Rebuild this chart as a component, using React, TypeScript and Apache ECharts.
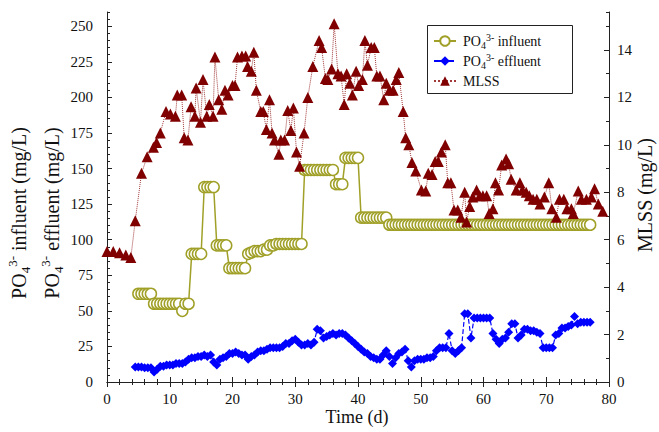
import React, { useEffect, useRef } from 'react';
import * as echarts from 'echarts';

const FONT = 'Liberation Serif';
const AX = '#222';

// PO4 3- influent (mg/L) : [day, value]
const influent: [number, number][] = [
  [5, 62], [5.5, 62], [6, 62], [6.5, 62], [7, 62],
  [7.5, 55], [8, 55], [8.5, 55], [9, 55], [9.5, 55], [10, 55], [10.5, 55], [11, 55], [11.5, 55],
  [12, 50], [12.5, 55], [13, 55],
  [13.5, 90], [14, 90], [14.5, 90], [15, 90],
  [15.5, 137], [16, 137], [16.5, 137], [17, 137],
  [17.5, 96], [18, 96], [18.5, 96], [19, 96],
  [19.5, 80], [20, 80], [20.5, 80], [21, 80], [21.5, 80], [22, 80],
  [22.5, 90], [23, 91], [23.5, 92], [24, 92], [24.5, 92], [25, 93], [25.5, 93],
  [26, 96], [26.5, 96], [27, 97], [27.5, 97], [28, 97], [28.5, 97], [29, 97], [29.5, 97], [30, 97], [30.5, 97], [31, 97],
  [31.5, 149], [32, 149], [32.5, 149], [33, 149], [33.5, 149], [34, 149], [34.5, 149], [35, 149], [35.5, 149], [36, 149],
  [36.5, 139], [37, 139], [37.5, 139],
  [38, 157.5], [38.5, 157.5], [39, 157.5], [39.5, 157.5], [40, 157.5],
  [40.5, 115.5], [41, 115.5], [41.5, 115.5], [42, 115.5], [42.5, 115.5], [43, 115.5], [43.5, 115.5], [44, 115.5], [44.5, 115.5],
  [45, 110.5], [45.5, 110.5], [46, 110.5], [46.5, 110.5], [47, 110.5], [47.5, 110.5], [48, 110.5], [48.5, 110.5], [49, 110.5], [49.5, 110.5],
  [50, 110.5], [50.5, 110.5], [51, 110.5], [51.5, 110.5], [52, 110.5], [52.5, 110.5], [53, 110.5], [53.5, 110.5], [54, 110.5], [54.5, 110.5],
  [55, 110.5], [55.5, 110.5], [56, 110.5], [56.5, 110.5], [57, 110.5], [57.5, 110.5], [58, 110.5], [58.5, 110.5], [59, 110.5], [59.5, 110.5],
  [60, 110.5], [60.5, 110.5], [61, 110.5], [61.5, 110.5], [62, 110.5], [62.5, 110.5], [63, 110.5], [63.5, 110.5], [64, 110.5], [64.5, 110.5],
  [65, 110.5], [65.5, 110.5], [66, 110.5], [66.5, 110.5], [67, 110.5], [67.5, 110.5], [68, 110.5], [68.5, 110.5], [69, 110.5], [69.5, 110.5],
  [70, 110.5], [70.5, 110.5], [71, 110.5], [71.5, 110.5], [72, 110.5], [72.5, 110.5], [73, 110.5], [73.5, 110.5], [74, 110.5], [74.5, 110.5],
  [75, 110.5], [75.5, 110.5], [76, 110.5], [76.5, 110.5], [77, 110.5],
];

// PO4 3- effluent (mg/L) : [day, value]
const effluent: [number, number][] = [
  [4.5, 10.5], [5, 10.5], [5.5, 10.5], [6, 10], [6.5, 10], [7, 10], [7.5, 7], [8, 9], [8.5, 11], [9, 11],
  [9.5, 12], [10, 12], [10.5, 12], [11, 13], [11.5, 13], [12, 13], [12.5, 14], [13, 16], [13.5, 17], [14, 17],
  [14.5, 18], [15, 18], [15.5, 19], [16, 18], [16.5, 19], [17, 14], [17.5, 12], [18, 16], [18.5, 17], [19, 18],
  [19.5, 20], [20, 20], [20.5, 21], [21, 20], [21.5, 19], [22, 19], [22.5, 16], [23, 18], [23.5, 19], [24, 21],
  [24.5, 22], [25, 22], [25.5, 23], [26, 24], [26.5, 24], [27, 24], [27.5, 24], [28, 25], [28.5, 27], [29, 27],
  [29.5, 29], [30, 30], [30.5, 28], [31, 26], [31.5, 26], [32, 27], [32.5, 26], [33, 28], [33.5, 37], [34, 36],
  [34.5, 31], [35, 32], [35.5, 33], [36, 34], [36.5, 33], [37, 34], [37.5, 34], [38, 33], [38.5, 31], [39, 29],
  [39.5, 27], [40, 25], [40.5, 23], [41, 21], [41.5, 20], [42, 18], [42.5, 17], [43, 16], [43.5, 16], [44, 19],
  [44.5, 22], [45, 18], [45.5, 13], [46, 17], [46.5, 20], [47, 21], [47.5, 23], [48, 15], [48.5, 10.5], [49, 15],
  [49.5, 16], [50, 16], [50.5, 16], [51, 17], [51.5, 17], [52, 18], [52.5, 22], [53, 24], [53.5, 24], [54, 24],
  [54.5, 34], [55, 22], [55.5, 20], [56, 22], [56.5, 24], [57, 48], [57.5, 48], [58, 31], [58.5, 45], [59, 45],
  [59.5, 45], [60, 45], [60.5, 45], [61, 45], [61.5, 34], [62, 30], [62.5, 27], [63, 30], [63.5, 31], [64, 35],
  [64.5, 41], [65, 41], [65.5, 31], [66, 33], [66.5, 37], [67, 37], [67.5, 36], [68, 36], [68.5, 35], [69, 34],
  [69.5, 24], [70, 24], [70.5, 24], [71, 24], [71.5, 33], [72, 34], [72.5, 38], [73, 38], [73.5, 39], [74, 40],
  [74.5, 46], [75, 41], [75.5, 42], [76, 42], [76.5, 42], [77, 42],
];

// MLSS (right axis) : [day, value]
const mlss: [number, number][] = [
  [0, 5.5], [1, 5.5], [2, 5.45], [3, 5.35], [3.8, 5.25], [4.5, 6.8], [5.5, 8.8], [6.4, 9.5], [7.4, 9.9], [7.9, 10.1],
  [8.5, 10.5], [9.4, 11.4], [10.1, 11.3], [10.9, 11.2], [11.2, 12.1], [11.9, 12.1], [12.3, 10.3], [12.9, 10.2], [13.4, 11.6], [14, 11.2],
  [14.2, 12.4], [14.9, 10.95], [15.3, 12.75], [15.9, 11.2], [16.3, 11.7], [16.9, 11.2], [17.2, 13.7], [17.8, 11.9], [18.3, 11.5], [18.8, 12.3],
  [19.3, 12.1], [20, 12.5], [20.4, 12.5], [20.8, 13.7], [21.5, 13.75], [22.1, 13.75], [22.4, 13.3], [23, 13.1], [23.4, 13.9], [23.8, 12.3],
  [24.5, 11.4], [24.9, 11.4], [25.4, 10.65], [25.9, 11.9], [26.3, 10.5], [26.7, 10.2], [27.4, 9.6], [27.7, 10.2], [28.3, 10.2], [28.8, 11.45],
  [29.3, 10.6], [29.7, 11.55], [30.2, 9.7], [30.7, 9.1], [31.4, 10.5], [32, 12], [32.8, 13.3], [33.8, 14.4], [34.2, 14.1], [34.8, 12.8],
  [35.2, 12.75], [35.8, 13.2], [36.2, 15.1], [36.8, 13], [37.3, 12.9], [37.8, 11.7], [38.2, 13], [38.7, 12.6], [39.1, 12.1], [39.7, 13.1],
  [40.1, 12.5], [40.7, 12.75], [41.1, 14.4], [41.5, 13.35], [42.1, 14.1], [42.6, 14.1], [43, 12.9], [43.5, 12.9], [44.1, 11.9], [44.5, 12.6],
  [45, 12.3], [45.6, 12.3], [46.1, 12.75], [46.5, 13.05], [47.2, 11.4], [47.6, 10.3], [48.1, 10], [48.6, 9.25], [49.2, 8.9], [50.1, 8.1],
  [50.8, 8.05], [51.2, 8.8], [51.8, 8.75], [52.3, 9.3], [52.8, 9.3], [53.3, 9.7], [53.9, 10], [54.3, 8.4], [54.8, 8.4], [55.3, 7.25],
  [55.9, 7.25], [56.4, 6.95], [57, 8], [57.3, 6.75], [57.8, 7.4], [58.3, 7.8], [58.9, 8.1], [59.4, 7.85], [59.9, 7.85], [60.5, 7.85],
  [60.9, 7.1], [61.5, 7.3], [61.9, 8.4], [62.4, 8.1], [62.9, 9.15], [63.6, 9.4], [64, 9.2], [64.4, 8.55], [65.2, 8.1], [65.8, 8.4],
  [66.2, 8.1], [66.8, 8], [67.3, 7.85], [67.9, 7.7], [68.5, 7.7], [69, 7.5], [69.7, 7.8], [70.4, 8.4], [70.9, 7.3], [71.6, 6.95],
  [72.1, 7.7], [72.8, 7.7], [73.3, 7.3], [74, 7.3], [74.3, 7.1], [75.1, 8.05], [75.6, 7.7], [76.4, 7.7], [77.2, 7.8], [77.7, 8.15],
  [78.3, 7.5], [79, 7.2],
];

const legendNames: Record<string, string> = {
  influent: 'PO{sub|4}{sup|3-} influent',
  effluent: 'PO{sub|4}{sup|3-} effluent',
  MLSS: 'MLSS',
};

const richScript = (size: number) => ({
  sub: { fontSize: size, fontFamily: FONT, color: '#111', verticalAlign: 'bottom', lineHeight: size },
  sup: { fontSize: size, fontFamily: FONT, color: '#111', verticalAlign: 'top', lineHeight: size },
});

const tickLine = { color: AX, width: 1 };
const tickLabel = { fontFamily: FONT, fontSize: 15, color: '#111' };

export default function App() {
  const ref = useRef<HTMLDivElement>(null);
  useEffect(() => {
    const chart = echarts.init(ref.current!, null, { renderer: 'svg' });
    const option: any = {
      animation: false,
      backgroundColor: '#fff',
      textStyle: { fontFamily: FONT },
      grid: { left: 107, right: 50, top: 12, bottom: 50, containLabel: false },
      legend: {
        left: 433,
        top: 32,
        orient: 'vertical',
        itemWidth: 22,
        itemHeight: 12,
        itemGap: 2,
        padding: 0,
        z: 10,
        data: ['influent', 'effluent', 'MLSS'],
        formatter: (n: string) => legendNames[n],
        textStyle: {
          fontFamily: FONT,
          fontSize: 14,
          color: '#111',
          lineHeight: 18,
          padding: [0, 0, 0, 2],
          rich: richScript(10),
        },
      },
      graphic: [
        {
          type: 'rect',
          z: 1,
          shape: { x: 427.5, y: 25.5, width: 145, height: 68 },
          style: { fill: '#fff', stroke: AX, lineWidth: 1 },
        },
        {
          type: 'text',
          x: 357,
          y: 417,
          style: { text: 'Time (d)', fontFamily: FONT, fontSize: 18, fill: '#111', align: 'center', verticalAlign: 'middle' },
        },
        {
          type: 'text',
          x: 645,
          y: 195,
          rotation: Math.PI / 2,
          style: { text: 'MLSS (mg/L)', fontFamily: FONT, fontSize: 20, fill: '#111', align: 'center', verticalAlign: 'middle' },
        },
        {
          type: 'text',
          x: 19,
          y: 213,
          rotation: Math.PI / 2,
          style: {
            text: 'PO{sub|4}{sup|3-} influent (mg/L)',
            fontFamily: FONT, fontSize: 20, fill: '#111', lineHeight: 26,
            align: 'center', verticalAlign: 'middle',
            rich: richScript(13),
          },
        },
        {
          type: 'text',
          x: 52,
          y: 213,
          rotation: Math.PI / 2,
          style: {
            text: 'PO{sub|4}{sup|3-} effluent (mg/L)',
            fontFamily: FONT, fontSize: 20, fill: '#111', lineHeight: 26,
            align: 'center', verticalAlign: 'middle',
            rich: richScript(13),
          },
        },
      ],
      xAxis: [
        {
          type: 'value', position: 'bottom', min: 0, max: 80, interval: 10,
          axisLine: { show: true, lineStyle: tickLine },
          axisTick: { show: true, inside: true, length: 5, lineStyle: tickLine },
          minorTick: { show: true, splitNumber: 5, length: 3, lineStyle: tickLine },
          axisLabel: { ...tickLabel, margin: 9 },
          splitLine: { show: false },
        },
        {
          type: 'value', position: 'top', min: 0, max: 80, interval: 10,
          axisLine: { show: true, lineStyle: tickLine },
          axisTick: { show: true, inside: true, length: 5, lineStyle: tickLine },
          minorTick: { show: true, splitNumber: 5, length: 3, lineStyle: tickLine },
          axisLabel: { show: false },
          splitLine: { show: false },
        },
      ],
      yAxis: [
        {
          type: 'value', position: 'left', min: 0, max: 260, interval: 25,
          axisLine: { show: true, lineStyle: tickLine },
          axisTick: { show: true, inside: true, length: 5, lineStyle: tickLine },
          axisLabel: { ...tickLabel, margin: 14, showMaxLabel: false },
          splitLine: { show: false },
        },
        {
          type: 'value', position: 'left', offset: 0, min: 0, max: 260, interval: 5,
          axisLine: { show: false },
          axisTick: { show: true, inside: true, length: 3, lineStyle: tickLine },
          axisLabel: { show: false },
          splitLine: { show: false },
        },
        {
          type: 'value', position: 'right', min: 0, max: 15.6, interval: 2,
          axisLine: { show: true, lineStyle: tickLine },
          axisTick: { show: true, inside: true, length: 5, lineStyle: tickLine },
          axisLabel: { ...tickLabel, margin: 8, showMaxLabel: false },
          splitLine: { show: false },
        },
        {
          type: 'value', position: 'right', offset: 0, min: 0, max: 15.6, interval: 1,
          axisLine: { show: false },
          axisTick: { show: true, inside: true, length: 3, lineStyle: tickLine },
          axisLabel: { show: false },
          splitLine: { show: false },
        },
      ],
      series: [
        {
          name: 'influent', type: 'line', xAxisIndex: 0, yAxisIndex: 0, data: influent,
          symbol: 'circle', symbolSize: 11, showAllSymbol: true,
          itemStyle: { color: '#fff', borderColor: '#a0a028', borderWidth: 1.5 },
          lineStyle: { color: '#a0a028', width: 1.5 },
          z: 2,
        },
        {
          name: 'effluent', type: 'line', xAxisIndex: 0, yAxisIndex: 0, data: effluent,
          symbol: 'diamond', symbolSize: 9, showAllSymbol: true,
          itemStyle: { color: '#0000ff' },
          lineStyle: { color: '#0000ff', width: 1.2, type: 'dashed' },
          z: 3,
        },
        {
          name: 'MLSS', type: 'line', xAxisIndex: 0, yAxisIndex: 2, data: mlss,
          symbol: 'triangle', symbolSize: 11, showAllSymbol: true,
          itemStyle: { color: '#800000' },
          lineStyle: { color: '#a03838', width: 1, type: 'dotted' },
          z: 4,
        },
      ],
    };
    chart.setOption(option);
    return () => chart.dispose();
  }, []);
  return <div ref={ref} style={{ position: 'fixed', left: 0, top: 0, width: 659, height: 432 }} />;
}
